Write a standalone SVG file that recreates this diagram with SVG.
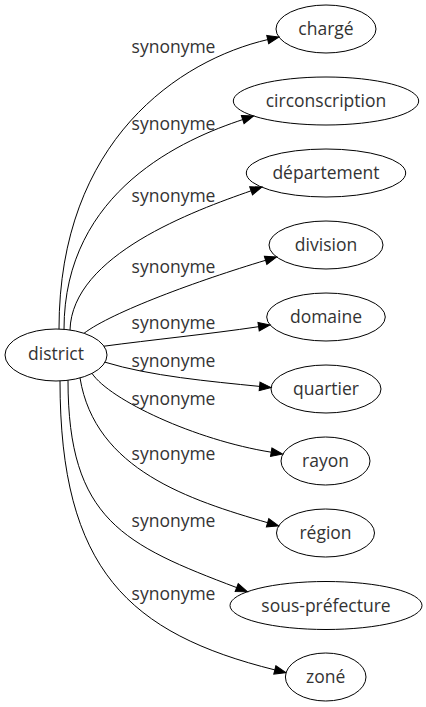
<svg xmlns="http://www.w3.org/2000/svg" width="426" height="707" viewBox="0 0 426 707">
<style>
  .node ellipse { fill: none; stroke: #000; stroke-width: 1; }
  .node text { font-family: "Open Sans", "Liberation Sans", sans-serif; font-size: 17.5px; fill: #333; text-anchor: middle; }
  .edge path { fill: none; stroke: #000; stroke-width: 1; marker-end: url(#ah); }
  .lbl { font-family: "Open Sans", "Liberation Sans", sans-serif; font-size: 17.5px; fill: #333; text-anchor: middle; }
</style>
<defs>
  <marker id="ah" markerUnits="userSpaceOnUse" markerWidth="14" markerHeight="12" viewBox="0 -6 14 12" refX="0" refY="0" orient="auto" overflow="visible">
    <path d="M0,-4.3 L11.5,0 L0,4.3 z" fill="#000" stroke="#000" stroke-width="1"/>
  </marker>
</defs>
<rect width="426" height="707" fill="#fff"/>
<g id="edges">
  <g class="edge"><path d="M59,329 C59,140 180,59.9 267.7,39.6"/><text class="lbl" x="173.5" y="53">synonyme</text></g>
  <g class="edge"><path d="M64,329.3 C64,190 185.7,138.4 242.7,119.6"/><text class="lbl" x="173.5" y="130">synonyme</text></g>
  <g class="edge"><path d="M70,330 C72,255 194.5,210.6 251.1,190.8"/><text class="lbl" x="173.5" y="202">synonyme</text></g>
  <g class="edge"><path d="M84,333.3 C112,312 198.5,280.4 265.6,260.3"/><text class="lbl" x="173.5" y="273">synonyme</text></g>
  <g class="edge"><path d="M104,346.2 C150,340 209.1,334.1 258.6,326.7"/><text class="lbl" x="173.5" y="329">synonyme</text></g>
  <g class="edge"><path d="M105,362.2 C150,376 209.6,381.4 259.6,386.4"/><text class="lbl" x="173.5" y="367">synonyme</text></g>
  <g class="edge"><path d="M92,373.4 C110,400 195,440 271.2,452.2"/><text class="lbl" x="173.5" y="405">synonyme</text></g>
  <g class="edge"><path d="M80,377.9 C95,470 190,500 267.6,522.7"/><text class="lbl" x="173.5" y="460">synonyme</text></g>
  <g class="edge"><path d="M68,380.3 C68,520 124.5,545 236.7,587.6"/><text class="lbl" x="173.5" y="527">synonyme</text></g>
  <g class="edge"><path d="M60,380.9 C60,570 129.3,633.5 274.8,669.9"/><text class="lbl" x="173.5" y="600">synonyme</text></g>
</g>
<g id="district" class="node"><ellipse cx="56" cy="355" rx="51" ry="26"/><text x="56" y="360">district</text></g>
<g id="charge" class="node"><ellipse cx="326" cy="29" rx="50" ry="24"/><text x="326" y="35">chargé</text></g>
<g id="circonscription" class="node"><ellipse cx="326" cy="101" rx="92.7" ry="24"/><text x="326" y="107">circonscription</text></g>
<g id="departement" class="node"><ellipse cx="326" cy="173" rx="79.7" ry="24"/><text x="326" y="179">département</text></g>
<g id="division" class="node"><ellipse cx="326" cy="245" rx="57" ry="24"/><text x="326" y="251">division</text></g>
<g id="domaine" class="node"><ellipse cx="326" cy="317" rx="59.3" ry="24"/><text x="326" y="323">domaine</text></g>
<g id="quartier" class="node"><ellipse cx="326" cy="389" rx="55" ry="24"/><text x="326" y="395">quartier</text></g>
<g id="rayon" class="node"><ellipse cx="325.5" cy="461" rx="44.5" ry="24"/><text x="325.5" y="467">rayon</text></g>
<g id="region" class="node"><ellipse cx="325.5" cy="533" rx="49" ry="24"/><text x="325.5" y="539">région</text></g>
<g id="sous-prefecture" class="node"><ellipse cx="326" cy="605.5" rx="96" ry="24"/><text x="326" y="611.5">sous-préfecture</text></g>
<g id="zone" class="node"><ellipse cx="325.7" cy="677" rx="40.3" ry="24"/><text x="325.7" y="683">zoné</text></g>
</svg>
